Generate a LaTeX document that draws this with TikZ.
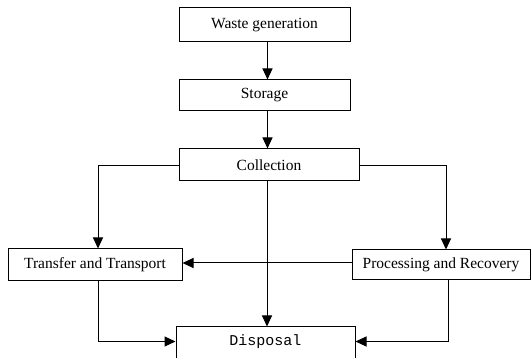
\documentclass[tikz,border=0pt]{standalone}
\usepackage{fontspec}
\setmainfont{Liberation Serif}
\newfontfamily\monof{Liberation Mono}
\usetikzlibrary{arrows.meta,calc}
\begin{document}
\begin{tikzpicture}[x=1pt,y=-1pt,
  box/.style={draw,line width=1pt,inner sep=0pt,font=\fontsize{15.5}{18}\selectfont},
  arr/.style={line width=1pt,-{Triangle[length=11pt,width=10pt]}},
  ln/.style={line width=1pt}]
\useasboundingbox (0,0) rectangle (531,358);
\clip (0,0) rectangle (531,358);
\node[box,minimum width=171pt,minimum height=34pt] (wg) at (264.5,25) {Waste generation};
\node[box,minimum width=171pt,minimum height=31pt] (st) at (264.5,95.5) {Storage};
\node[box,minimum width=180pt,minimum height=32pt] (col) at (269,165) {Collection};
\node[box,minimum width=174pt,minimum height=32pt] (tr) at (95,265) {Transfer and Transport};
\node[box,minimum width=178pt,minimum height=30pt] (pr) at (441,265) {Processing and Recovery};
\node[box,minimum width=179pt,minimum height=40pt] (dis) at (265.5,347) {};
\node[inner sep=0pt,font=\monof\fontsize{15}{18}\selectfont] (dtext) at (265.5,341.5) {Disposal};
\draw[arr] ([xshift=3pt]wg.south) -- ([xshift=3pt]st.north);
\draw[arr] ([xshift=3pt]st.south) -- ([xshift=3pt]st.south |- col.north);
\draw[arr] ([xshift=-2pt]col.south) -- ([xshift=-2pt]col.south |- dis.north);
\draw[arr] ([yshift=-1pt]col.west) -| ([xshift=3pt]tr.north);
\draw[arr] ([yshift=-1pt]col.east) -| ([xshift=5pt]pr.north);
\draw[arr] ([yshift=2pt]pr.west) -- ([yshift=2pt]pr.west -| tr.east);
\coordinate (tb) at ([xshift=3pt]tr.south);
\coordinate (pb) at ([xshift=7pt]pr.south);
\draw[arr] (tb) |- (dis.west |- dtext);
\draw[arr] (pb) |- (dis.east |- dtext);
\end{tikzpicture}
\end{document}
